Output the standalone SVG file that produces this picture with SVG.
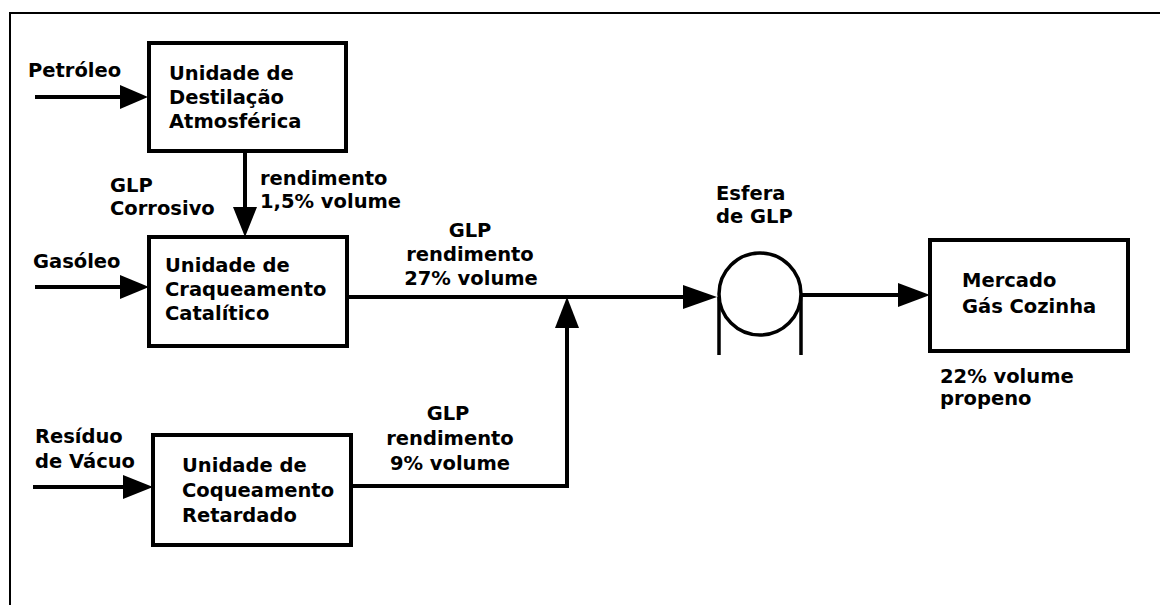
<svg xmlns="http://www.w3.org/2000/svg" width="1160" height="605" viewBox="0 0 1160 605">
<style>
  text { font-family: "DejaVu Sans", "Liberation Sans", sans-serif; font-weight: bold; font-size: 19.5px; fill: #000; }
  .c { text-anchor: middle; }
  .box { fill: #fff; stroke: #000; stroke-width: 4; }
  .ln { fill: none; stroke: #000; stroke-width: 4; }
  .thin { fill: none; stroke: #000; stroke-width: 3.5; }
  .ah { fill: #000; }
  .frame { fill: none; stroke: #000; stroke-width: 2; }
</style>
<rect x="0" y="0" width="1160" height="605" fill="#fff"/>
<path class="frame" d="M1160,13 H10 V605"/>

<g id="connectors">
  <line class="ln" x1="35" y1="97" x2="122" y2="97"/>
  <polygon class="ah" points="120,85 148,97 120,109"/>
  <line class="ln" x1="245" y1="152" x2="245" y2="209"/>
  <polygon class="ah" points="233,207 245,237 257,207"/>
  <line class="ln" x1="35" y1="287" x2="122" y2="287"/>
  <polygon class="ah" points="120,275 149,287 120,299"/>
  <line class="ln" x1="33" y1="487" x2="125" y2="487"/>
  <polygon class="ah" points="123,475 153,487 123,499"/>
  <line class="ln" x1="348" y1="297" x2="685" y2="297"/>
  <polygon class="ah" points="683,285 717,297 683,309"/>
  <polyline class="ln" points="352,486 567,486 567,326"/>
  <polygon class="ah" points="555,328 567,297 579,328"/>
  <line class="ln" x1="802" y1="295" x2="900" y2="295"/>
  <polygon class="ah" points="898,283 930,295 898,307"/>
</g>

<g id="petroleo"><text x="28" y="77">Petróleo</text></g>
<g id="destilacao">
  <rect class="box" x="149" y="43" width="197" height="108"/>
  <text x="169" y="80">Unidade de</text>
  <text x="169" y="104">Destilação</text>
  <text x="169" y="128">Atmosférica</text>
</g>
<g id="glp-corrosivo">
  <text x="110" y="192">GLP</text>
  <text x="110" y="215">Corrosivo</text>
</g>
<g id="rend-15">
  <text x="260" y="185">rendimento</text>
  <text x="260" y="208">1,5% volume</text>
</g>
<g id="gasoleo"><text x="33" y="268">Gasóleo</text></g>
<g id="craqueamento">
  <rect class="box" x="149" y="237" width="198" height="109"/>
  <text x="165" y="272">Unidade de</text>
  <text x="165" y="296">Craqueamento</text>
  <text x="165" y="320">Catalítico</text>
</g>
<g id="rend-27">
  <text class="c" x="470" y="237">GLP</text>
  <text class="c" x="470" y="261">rendimento</text>
  <text class="c" x="471" y="285">27% volume</text>
</g>
<g id="residuo">
  <text x="35" y="443">Resíduo</text>
  <text x="35" y="468">de Vácuo</text>
</g>
<g id="coqueamento">
  <rect class="box" x="153" y="435" width="198" height="110"/>
  <text x="182" y="472">Unidade de</text>
  <text x="182" y="497">Coqueamento</text>
  <text x="182" y="522">Retardado</text>
</g>
<g id="rend-9">
  <text class="c" x="448" y="420">GLP</text>
  <text class="c" x="450" y="445">rendimento</text>
  <text class="c" x="450" y="470">9% volume</text>
</g>
<g id="esfera">
  <text x="716" y="200">Esfera</text>
  <text x="716" y="223">de GLP</text>
  <circle class="thin" cx="760" cy="294" r="41"/>
  <line class="thin" x1="719" y1="297" x2="719" y2="355"/>
  <line class="thin" x1="801" y1="297" x2="801" y2="355"/>
</g>
<g id="mercado">
  <rect class="box" x="930" y="240" width="198" height="111"/>
  <text x="962" y="287">Mercado</text>
  <text x="962" y="313">Gás Cozinha</text>
</g>
<g id="propeno">
  <text x="940" y="383">22% volume</text>
  <text x="940" y="405">propeno</text>
</g>
</svg>
